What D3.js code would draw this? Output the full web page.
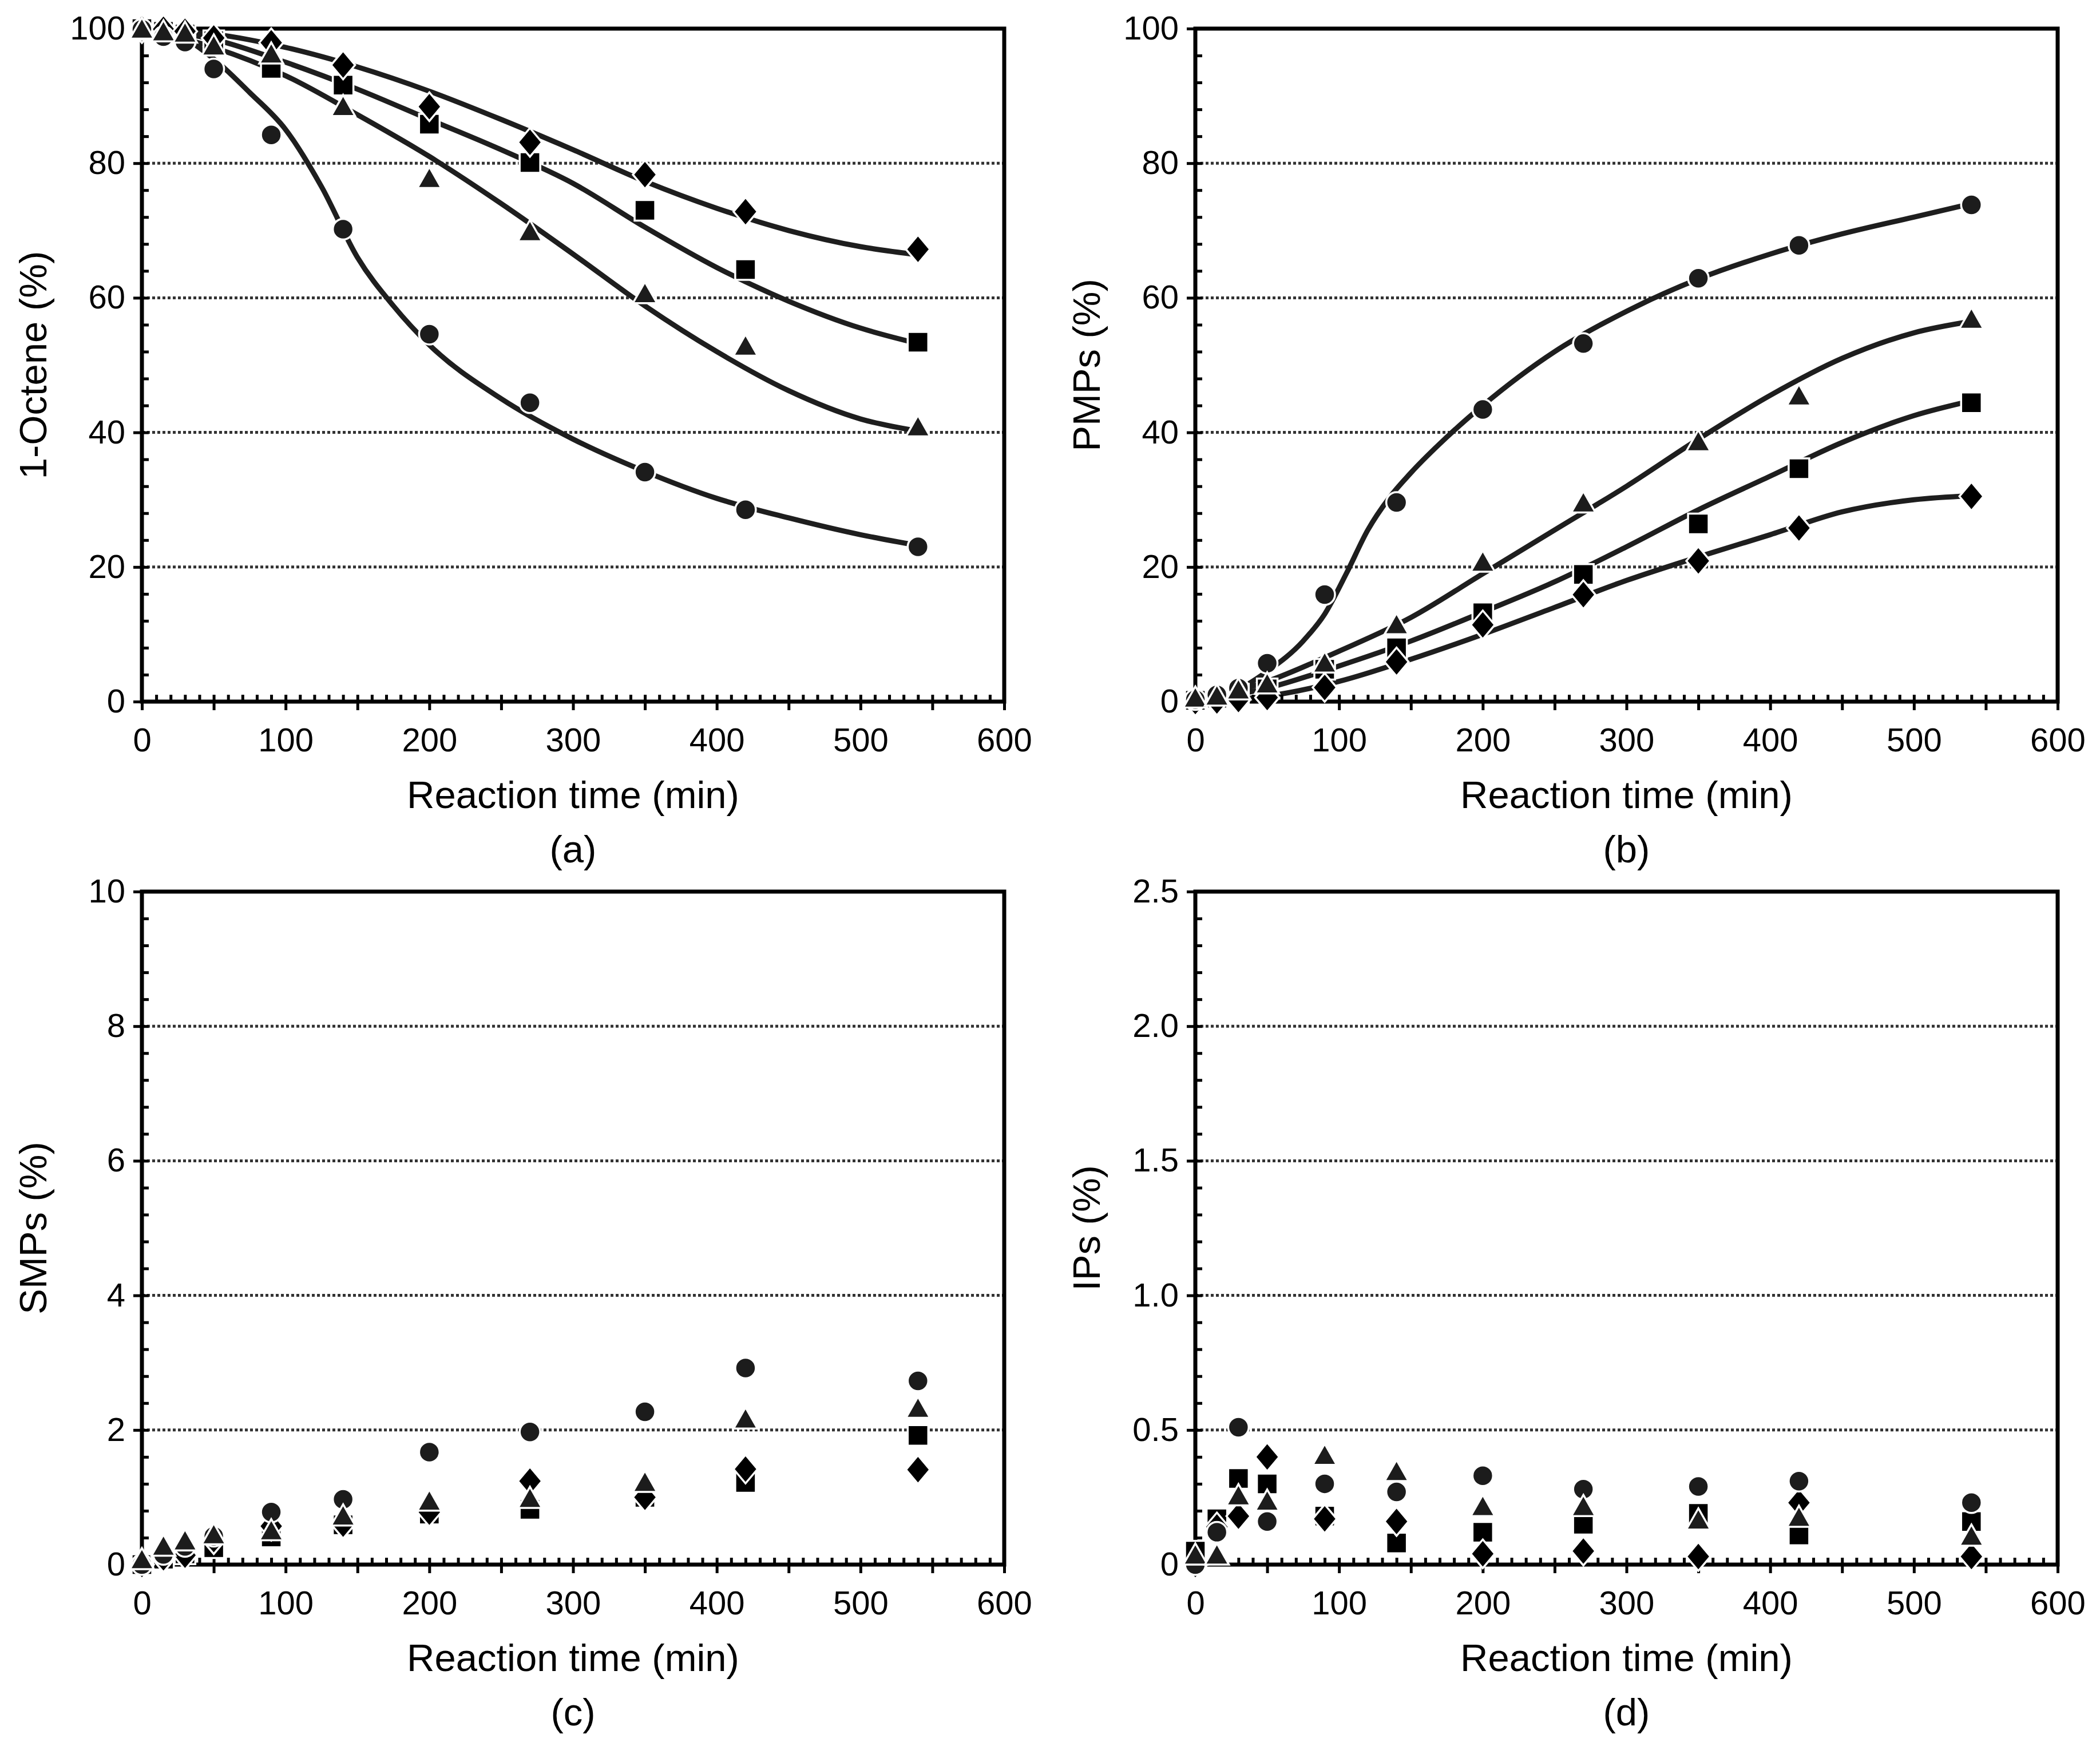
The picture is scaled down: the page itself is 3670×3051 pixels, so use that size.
<!DOCTYPE html>
<html>
<head>
<meta charset="utf-8">
<script src="https://d3js.org/d3.v7.min.js"></script>
<style>
body { margin: 0; background: #fff; }
</style>
</head>
<body>
<div id="chart"></div>
<script>
// sampling times (min), shared by every series
var times = [0, 15, 30, 50, 90, 140, 200, 270, 350, 420, 540];

// x axis
var xTicks = [0, 100, 200, 300, 400, 500, 600];

// (a) 1-Octene (%)
var octeneTicks = [0, 20, 40, 60, 80, 100];
var octeneCircle = [99.9, 98.8, 98.0, 94.0, 84.2, 70.2, 54.6, 44.4, 34.1, 28.5, 23.0];
var octeneSquare = [100, 99.6, 99.2, 98.2, 94.1, 91.6, 85.8, 80.1, 73.0, 64.2, 53.4];
var octeneTriangle = [99.7, 99.3, 99.1, 97.2, 96.0, 88.2, 77.5, 69.6, 60.4, 52.6, 40.6];
var octeneDiamond = [100, 99.9, 99.6, 98.6, 97.9, 94.6, 88.4, 83.1, 78.3, 72.8, 67.2];

// fitted curves of (a), [time, value]
var octeneCircleFit = [[0,100],[25,99],[50,95.5],[75,90.5],[100,85],[125,76.5],[150,66],[175,58.8],[200,53],[250,45],[300,39],[350,34.2],[400,30.2],[450,27.3],[500,24.8],[540,23.2]];
var octeneSquareFit = [[0,100],[50,98.4],[100,95],[150,91],[200,86.5],[250,82],[300,77],[350,70.5],[400,64.5],[450,59.5],[500,55.5],[540,53.2]];
var octeneTriangleFit = [[0,100],[50,97.2],[100,93],[150,87.2],[200,81],[250,74],[300,66.5],[350,58.8],[400,52],[450,46.2],[500,42],[540,40.2]];
var octeneDiamondFit = [[0,100],[50,99.2],[100,97.2],[150,94.3],[200,90.7],[250,86.5],[300,82],[350,77.3],[400,73.3],[450,70],[500,67.6],[540,66.4]];

// (b) PMPs (%)
var pmpTicks = [0, 20, 40, 60, 80, 100];
var pmpCircle = [0.3, 1.0, 2.0, 5.7, 15.9, 29.6, 43.4, 53.2, 62.9, 67.8, 73.8];
var pmpSquare = [0.2, 0.5, 1.1, 1.9, 4.8, 8.0, 13.2, 18.9, 26.4, 34.6, 44.4];
var pmpTriangle = [0.3, 0.6, 1.5, 2.4, 5.5, 11.2, 20.5, 29.3, 38.4, 45.2, 56.6];
var pmpDiamond = [0, 0.1, 0.3, 0.6, 2.1, 5.9, 11.4, 15.9, 20.9, 25.8, 30.5];

var pmpCircleFit = [[0,0],[25,1.3],[50,4.5],[75,9],[90,13],[105,19],[120,25.5],[135,30.3],[150,34],[175,39.3],[200,44],[250,52],[300,58],[350,62.8],[400,66.5],[450,69.5],[500,72],[540,74]];
var pmpSquareFit = [[0,0],[50,2],[100,5.3],[150,9],[200,13.3],[250,17.8],[300,23],[350,28.5],[400,33.5],[450,38.5],[500,42.5],[540,44.7]];
var pmpTriangleFit = [[0,0],[50,3],[100,7.5],[150,12.5],[200,19],[250,25.5],[300,32],[350,39],[400,45.5],[450,51],[500,54.8],[540,56.5]];
var pmpDiamondFit = [[0,0],[50,0.8],[100,3],[150,6.3],[200,10],[250,14],[300,18],[350,21.5],[400,24.8],[450,28.2],[500,30],[540,30.6]];

// (c) SMPs (%)
var smpTicks = [0, 2, 4, 6, 8, 10];
var smpCircle = [0, 0.15, 0.27, 0.42, 0.78, 0.97, 1.67, 1.97, 2.27, 2.92, 2.73];
var smpSquare = [0, 0.08, 0.16, 0.25, 0.41, 0.59, 0.75, 0.82, 1.00, 1.22, 1.92];
var smpTriangle = [0.05, 0.25, 0.33, 0.42, 0.48, 0.70, 0.92, 0.96, 1.20, 2.14, 2.30];
var smpDiamond = [0, 0.10, 0.14, 0.37, 0.57, 0.60, 0.78, 1.24, 1.00, 1.42, 1.41];

// (d) IPs (%)
var ipTicks = [0, 0.5, 1.0, 1.5, 2.0, 2.5];
var ipCircle = [0, 0.12, 0.51, 0.16, 0.30, 0.27, 0.33, 0.28, 0.29, 0.31, 0.23];
var ipSquare = [0.05, 0.17, 0.32, 0.30, 0.18, 0.08, 0.12, 0.15, 0.19, 0.11, 0.16];
var ipTriangle = [0.03, 0.03, 0.25, 0.23, 0.40, 0.34, 0.21, 0.21, 0.16, 0.17, 0.10];
var ipDiamond = [0, 0.14, 0.18, 0.40, 0.17, 0.16, 0.04, 0.05, 0.03, 0.23, 0.03];

var W = 1507, H = 1176;
var font = "'Liberation Sans', Arial, Helvetica, sans-serif";

var svg = d3.select("#chart")
	.append("svg")
	.attr("width", 3670)
	.attr("height", 3051)
	.style("background", "#fff");

// marker shapes, drawn around (0,0)
var shapes = {
	circle: "M18,0A18,18 0 1,1 -18,0A18,18 0 1,1 18,0Z",
	square: "M-18,-18H18V18H-18Z",
	triangle: "M0,-23L21,14H-21Z",
	diamond: "M0,-25L21,0L0,25L-21,0Z"
};
var fills = { circle: "#1c1c1c", square: "#000", triangle: "#1c1c1c", diamond: "#000" };

var panels = [
	{ left: 248, top: 50, yMax: 100, ticks: octeneTicks, minor: 4, ytitle: "1-Octene (%)", tag: "(a)",
		series: { square: octeneSquare, diamond: octeneDiamond, circle: octeneCircle, triangle: octeneTriangle },
		fits: [octeneCircleFit, octeneSquareFit, octeneTriangleFit, octeneDiamondFit] },
	{ left: 2089, top: 50, yMax: 100, ticks: pmpTicks, minor: 4, ytitle: "PMPs (%)", tag: "(b)",
		series: { square: pmpSquare, diamond: pmpDiamond, circle: pmpCircle, triangle: pmpTriangle },
		fits: [pmpCircleFit, pmpSquareFit, pmpTriangleFit, pmpDiamondFit] },
	{ left: 248, top: 1558, yMax: 10, ticks: smpTicks, minor: 0.4, ytitle: "SMPs (%)", tag: "(c)",
		series: { square: smpSquare, diamond: smpDiamond, circle: smpCircle, triangle: smpTriangle },
		fits: [] },
	{ left: 2089, top: 1558, yMax: 2.5, ticks: ipTicks, minor: 0.1, ytitle: "IPs (%)", tag: "(d)",
		series: { square: ipSquare, diamond: ipDiamond, circle: ipCircle, triangle: ipTriangle },
		fits: [] }
];

panels.forEach(drawPanel);

function styleAxis(g)
{
	g.select(".domain").remove();
	g.selectAll("line").attr("stroke", "#000").attr("stroke-width", 5);
	g.selectAll("text")
		.attr("font-family", font)
		.attr("font-size", 58)
		.attr("fill", "#000");
}

function drawPanel(p)
{
	var g = svg.append("g").attr("transform", "translate(" + p.left + "," + p.top + ")");

	var x = d3.scaleLinear().domain([0, 600]).range([0, W]);
	var y = d3.scaleLinear().domain([0, p.yMax]).range([H, 0]);

	//dotted grid
	g.selectAll(".grid")
		.data(p.ticks.filter(function(v){ return v > 0 && v < p.yMax; }))
		.enter()
		.append("line")
		.attr("x1", 0)
		.attr("x2", W)
		.attr("y1", function(d){ return y(d); })
		.attr("y2", function(d){ return y(d); })
		.attr("stroke", "#333")
		.attr("stroke-width", 5)
		.attr("stroke-dasharray", "5,4");

	//fitted curves
	var line = d3.line()
		.x(function(d){ return x(d[0]); })
		.y(function(d){ return y(d[1]); })
		.curve(d3.curveMonotoneX);

	g.selectAll(".fit")
		.data(p.fits)
		.enter()
		.append("path")
		.attr("d", line)
		.attr("fill", "none")
		.attr("stroke", "#1e1e1e")
		.attr("stroke-width", 9);

	//x axis: labels, outward ticks every 50, inward minor every 10
	var xAxis = d3.axisBottom(x)
		.tickValues(d3.range(0, 601, 50))
		.tickSize(15)
		.tickPadding(31)
		.tickFormat(function(d){ return d % 100 == 0 ? d : ""; });
	g.append("g").attr("transform", "translate(0," + H + ")").call(xAxis).call(styleAxis);

	var xMinor = d3.axisTop(x).tickValues(d3.range(0, 601, 10)).tickSize(12).tickFormat("");
	g.append("g").attr("transform", "translate(0," + H + ")").call(xMinor).call(styleAxis);

	//y axis
	var fmt = p.yMax < 5 ? d3.format(".1f") : d3.format("d");
	var yAxis = d3.axisLeft(y)
		.tickValues(p.ticks)
		.tickSize(15)
		.tickPadding(14)
		.tickFormat(function(d){ return d == 0 ? "0" : fmt(d); });
	g.append("g").call(yAxis).call(styleAxis);

	var minorVals = d3.range(0, Math.round(p.yMax / p.minor) + 1).map(function(i){ return i * p.minor; });
	var yMinor = d3.axisRight(y).tickValues(minorVals).tickSize(12).tickFormat("");
	g.append("g").call(yMinor).call(styleAxis);

	//frame
	g.append("rect")
		.attr("x", 0)
		.attr("y", 0)
		.attr("width", W)
		.attr("height", H)
		.attr("fill", "none")
		.attr("stroke", "#000")
		.attr("stroke-width", 7);

	//markers
	["square", "diamond", "circle", "triangle"].forEach(function(kind){
		g.selectAll(".m-" + kind)
			.data(p.series[kind])
			.enter()
			.append("path")
			.attr("class", "m-" + kind)
			.attr("d", shapes[kind])
			.attr("transform", function(d, i){
				return "translate(" + x(times[i]) + "," + y(d) + ")";
			})
			.attr("fill", fills[kind])
			.attr("stroke", "#fff")
			.attr("stroke-width", 3.5);
	});

	//titles
	g.append("text")
		.attr("x", W / 2)
		.attr("y", H + 186)
		.attr("text-anchor", "middle")
		.attr("font-family", font)
		.attr("font-size", 67)
		.text("Reaction time (min)");

	g.append("text")
		.attr("x", W / 2)
		.attr("y", H + 281)
		.attr("text-anchor", "middle")
		.attr("font-family", font)
		.attr("font-size", 67)
		.text(p.tag);

	g.append("text")
		.attr("transform", "translate(-190," + (H / 2) + ") rotate(-90)")
		.attr("dy", "0.35em")
		.attr("text-anchor", "middle")
		.attr("font-family", font)
		.attr("font-size", 67)
		.text(p.ytitle);
}
</script>
</body>
</html>
